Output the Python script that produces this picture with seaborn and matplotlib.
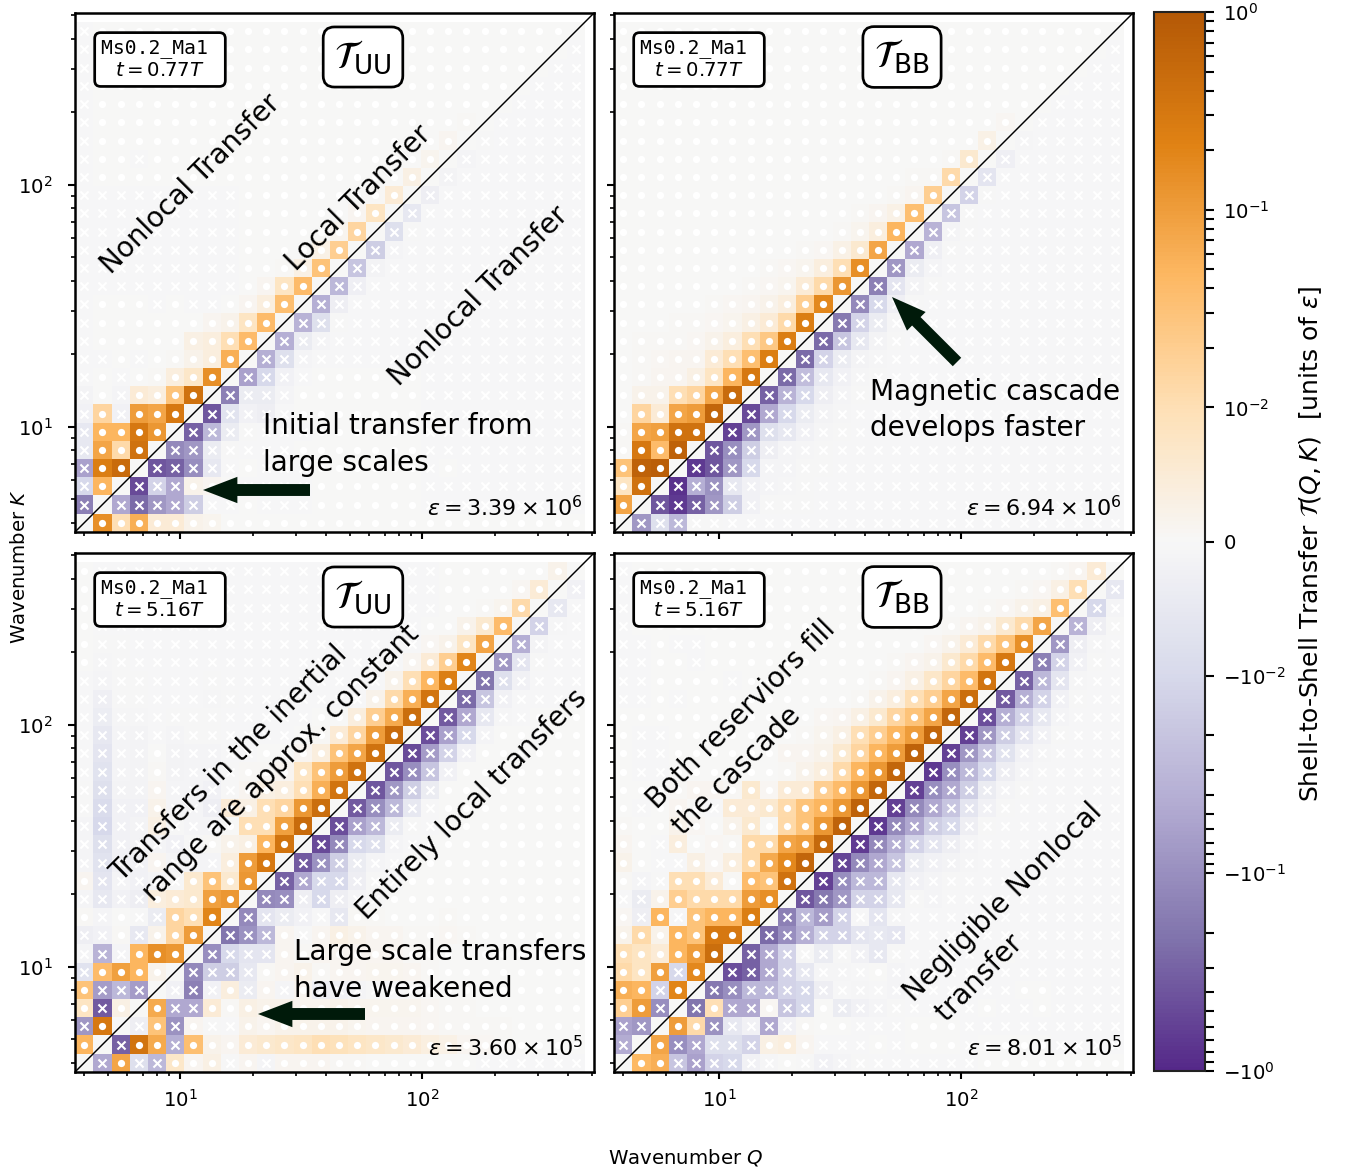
import numpy as np
import pandas as pd
import seaborn as sns
from matplotlib import pyplot as plt
from matplotlib.cm import ScalarMappable
from matplotlib.colors import LinearSegmentedColormap, SymLogNorm
from matplotlib.patches import FancyArrowPatch
from matplotlib.ticker import FixedLocator

# shell centres
wavenumbers = [4, 4.76, 5.66, 6.73, 8, 9.51, 11.3, 13.5, 16, 19, 22.6, 26.9, 32, 38,
               45.3, 53.8, 64, 76.1, 90.5, 108, 128, 152, 181, 215, 256, 304, 362, 431]

# transfer in units of 1e-4 epsilon, rows K index 1..27, columns Q index below the diagonal
uu_early = [
    [-1500],
    [-100, 500],
    [-600, 2500, 5000],
    [-50, 800, 120, 4000],
    [-50, 500, 500, 3000, 1200],
    [-20, 150, -20, 1000, 800, 3000],
    [-15, 3, -10, 50, 40, 300, 4000],
    [-3, 3, -3, 3, 5, 40, 70, 1500],
    [-2, -3, 1, -2, 2, 5, 20, 40, 600],
    [-2, 1, 1, 1, 1, 2, 30, 40, 100, 400],
    [-2, 1, 1, 1, 1, 1, 3, 10, 20, 80, 400],
    [-2, 1, 1, 1, -1, 1, -1, -1, 1, 10, 40, 350],
    [-1, -1, -1, -1, -1, -1, -1, -1, -1, 1, 10, 80, 400],
    [-1, -1, -1, -1, -1, -1, -1, -1, -1, 1, 1, 5, 30, 300],
    [-1, -1, -1, -1, -1, -1, -1, -1, -1, 1, 1, 1, 3, 25, 200],
    [-1, -1, -1, -1, -1, -1, -1, -1, -1, 1, 1, 1, 1, 3, 15, 150],
    [-1, -1, -1, -1, -1, -1, -1, -1, -1, 1, 1, 1, 1, 1, 2, 10, 80],
    [-1, -1, -1, -1, -1, -1, -1, -1, -1, 1, 1, 1, 1, 1, 1, 2, 5, 50],
    [-1, 1, 1, 1, 1, 1, 1, 1, 1, 1, 1, 1, 1, 1, 1, 1, 1, 3, 30],
    [-1, 1, 1, -1, 1, 1, 1, 1, 1, 1, 1, 1, 1, 1, 1, 1, 1, 1, 2, 15],
    [-1, 1, 1, 1, 1, 1, 1, 1, 1, 1, 1, 1, 1, 1, 1, 1, 1, 1, 1, 1, 10],
    [-1, 1, 1, 1, 1, 1, 1, 1, 1, 1, 1, 1, 1, 1, 1, 1, 1, 1, 1, 1, 1, 5],
    [-1, 1, 1, 1, 1, 1, 1, 1, 1, 1, 1, 1, 1, 1, 1, 1, 1, 1, 1, 1, 1, 1, 3],
    [-1, 1, 1, 1, 1, 1, 1, 1, 1, 1, 1, 1, 1, 1, 1, 1, 1, 1, 1, 1, 1, 1, 1, 2],
    [-1, 1, 1, 1, 1, 1, 1, 1, 1, 1, 1, 1, 1, 1, 1, 1, 1, 1, 1, 1, 1, 1, 1, 1, 1],
    [-1, 1, 1, 1, 1, 1, 1, 1, 1, 1, 1, 1, 1, 1, 1, 1, 1, 1, 1, 1, 1, 1, 1, 1, 1, 1],
    [-1, 1, 1, 1, 1, 1, 1, 1, 1, 1, 1, 1, 1, 1, 1, 1, 1, 1, 1, 1, 1, 1, 1, 1, 1, 1, 1],
]

bb_early = [
    [800],
    [80, 4000],
    [300, 7000, 8000],
    [5, 3000, 400, 7000],
    [5, 800, 900, 4000, 4000],
    [3, 150, 50, 800, 1000, 6000],
    [2, 20, 20, 100, 150, 800, 5000],
    [2, 5, 10, 12, 30, 80, 500, 3000],
    [2, 5, 7, 10, 12, 50, 100, 350, 2500],
    [2, 5, 5, 5, 8, 20, 40, 100, 250, 2500],
    [1, 2, 3, 5, 5, 8, 15, 30, 50, 120, 2500],
    [1, 2, 2, 2, 3, 5, 8, 12, 20, 40, 200, 1800],
    [1, 1, 1, 1, 2, 2, 3, 5, 8, 15, 50, 120, 1200],
    [1, 1, 1, 1, 1, 1, 2, 3, 5, 8, 15, 40, 100, 1500],
    [1, 1, 1, 1, 1, 1, 1, 1, 2, 3, 4, 8, 25, 60, 800],
    [1, 1, 1, 1, 1, 1, 1, 1, 1, 2, 2, 3, 5, 15, 40, 500],
    [1, 1, 1, 1, 1, 1, 1, 1, 1, 1, 1, 2, 3, 4, 10, 25, 350],
    [1, 1, 1, 1, 1, 1, 1, 1, 1, 1, 1, 1, 1, 2, 3, 6, 12, 200],
    [1, 1, 1, 1, 1, 1, 1, 1, 1, 1, 1, 1, 1, 1, 1, 2, 4, 6, 120],
    [1, 1, 1, 1, 1, 1, 1, 1, 1, 1, 1, 1, 1, 1, 1, 1, 1, 2, 4, 60],
    [1, 1, 1, 1, 1, 1, 1, 1, 1, 1, 1, 1, 1, 1, 1, 1, 1, 1, 1, 3, 25],
    [1, 1, 1, 1, 1, 1, 1, 1, 1, 1, 1, 1, 1, 1, 1, 1, 1, 1, 1, 1, 2, 8],
    [1, 1, 1, 1, 1, 1, 1, 1, 1, 1, 1, 1, 1, 1, 1, 1, 1, 1, 1, 1, 1, 1, 3],
    [1, 1, 1, 1, 1, 1, 1, 1, 1, 1, 1, 1, 1, 1, 1, 1, 1, 1, 1, 1, 1, 1, 1, 2],
    [1, 1, 1, 1, 1, 1, 1, 1, 1, 1, 1, 1, 1, 1, 1, 1, 1, 1, 1, 1, 1, 1, 1, 1, 1],
    [1, 1, 1, 1, 1, 1, 1, 1, 1, 1, 1, 1, 1, 1, 1, 1, 1, 1, 1, 1, 1, 1, 1, 1, 1, 1],
    [1, 1, 1, 1, 1, 1, 1, 1, 1, 1, 1, 1, 1, 1, 1, 1, 1, 1, 1, 1, 1, 1, 1, 1, 1, 1, 1],
]

uu_late = [
    [500],
    [-800, 3000],
    [80, -3500, 30],
    [300, -700, -300, -700],
    [-70, 400, 900, 500, 20],
    [-10, -350, -10, 500, 1500, 1200],
    [-30, -20, 5, -50, 20, 150, 1000],
    [5, -10, 3, -5, -40, 150, 100, 2000],
    [-10, -50, -20, -30, 40, 50, 60, 900, 1200],
    [10, -60, -10, -20, -10, -5, 60, 300, 60, 1200],
    [-10, -70, -20, -20, 10, -10, -10, -10, 40, 1000, 3000],
    [-10, -80, -20, -15, -10, -20, -5, 5, 20, 30, 500, 3500],
    [-10, -100, -20, -15, 30, -5, -10, -10, 3, 100, 100, 900, 5000],
    [-5, -90, -20, -20, 20, -10, -10, -30, 50, 30, 100, 150, 1200, 4500],
    [-5, -80, -15, -15, 10, -10, -10, -20, -5, 10, 30, 40, 100, 600, 3500],
    [-3, -70, -10, -15, 5, -15, -10, -10, -5, 5, 5, 10, 80, 300, 1000, 4000],
    [-3, -60, -10, -15, 3, -15, -10, -10, -3, -3, 1, 1, 10, 40, 300, 800, 4000],
    [-3, -50, -10, -15, -3, -10, -5, -5, -3, -3, -3, -1, 3, 5, 50, 150, 1000, 5000],
    [-2, -35, -8, -8, -3, -5, -5, -5, -3, -2, -2, -2, -2, 1, 1, 40, 200, 700, 4500],
    [-2, -25, -5, -5, -3, -3, -3, -8, -5, -2, -2, -1, -1, -1, -1, -1, 20, 120, 600, 3500],
    [-2, -12, -5, -5, -3, -3, -3, -5, -3, -2, -2, -1, -1, -1, -1, -1, -1, 20, 100, 500, 2500],
    [3, -8, -5, -3, -3, -2, -2, -3, -2, -2, -1, -1, -1, -1, -1, -1, -1, -1, 10, 50, 200, 2000],
    [3, -5, -4, -3, -3, -2, -2, -2, -2, -1, -1, -1, -1, -1, -1, -1, -1, -1, -1, 8, 20, 80, 800],
    [3, -3, -3, -2, -2, -2, -2, -2, -1, -1, -1, -1, -1, -1, -1, -1, -1, -1, -1, 1, 3, 20, 60, 400],
    [3, -2, -2, -2, -2, -2, -1, -1, -1, -1, -1, -1, -1, -1, -1, -1, -1, -1, -1, -1, 1, 1, 5, 15, 120],
    [2, -2, -2, -1, -1, -1, -1, -1, -1, -1, -1, -1, -1, -1, -1, -1, -1, -1, -1, -1, 1, 1, 1, 1, 7, 50],
    [2, -1, -1, -1, -1, -1, -1, -1, -1, -1, -1, -1, -1, -1, -1, -1, -1, -1, -1, -1, 1, 1, 1, 1, 1, 1, 20],
]

bb_late = [
    [-450],
    [-600, -800],
    [200, 1000, -1000],
    [600, 500, -120, 2000],
    [120, 80, 900, -100, 1800],
    [100, 80, 50, 500, 1000, 4500],
    [20, 120, 20, 500, 300, 3000, 3000],
    [7, -30, 500, -7, 300, 500, 500, 2500],
    [-3, -40, 20, 200, 120, 120, 120, 1000, 1500],
    [6, -10, -5, 100, 100, 50, 5, 400, 300, 4000],
    [20, 3, -3, -3, 30, 8, 40, 120, 700, 1800, 6000],
    [10, 3, -2, 40, 3, 8, 6, 120, 120, 800, 1000, 5500],
    [5, 3, 3, 20, 8, 1, 20, 60, 2, 130, 300, 1200, 6500],
    [2, -2, 2, 10, 2, -1, 50, 50, 60, 120, 300, 500, 1200, 7000],
    [2, 2, 3, 5, 10, 10, 5, 60, 8, 50, 50, 200, 400, 1200, 6000],
    [2, -2, -1, 3, 3, 3, 3, 3, 1, 5, 20, 40, 120, 500, 1200, 6000],
    [2, -2, -2, 2, 2, 2, 2, 2, 2, 10, 10, 20, 60, 150, 500, 1000, 7000],
    [2, -2, -2, 2, 2, 2, 2, 2, 2, 2, 5, 15, 30, 100, 200, 500, 1000, 6000],
    [2, 2, 2, 2, 2, 2, 2, 2, 2, 2, 2, 7, 10, 30, 60, 150, 300, 800, 6000],
    [-1, -1, 1, -1, 1, 1, 1, 1, 1, 1, 1, 1, 3, 5, 20, 40, 100, 200, 800, 4500],
    [-1, -1, 1, 1, 1, 1, -1, 1, 1, 1, 1, 1, 1, 3, 5, 10, 30, 70, 150, 400, 3500],
    [-1, -1, 1, 1, -1, 1, 1, 1, 1, 1, 1, 1, 1, 1, 3, 5, 10, 20, 60, 120, 400, 3000],
    [-1, -1, 1, -1, -1, 1, 1, 1, 1, 1, 1, 1, 1, 1, 1, 2, 3, 7, 20, 50, 120, 300, 1500],
    [-1, 1, 1, 1, 1, 1, 1, 1, 1, 1, 1, 1, 1, 1, 1, 1, 2, 3, 5, 10, 20, 60, 120, 800],
    [-1, 1, 1, 1, 1, 1, 1, 1, 1, 1, 1, 1, 1, 1, 1, 1, 1, 1, 2, 3, 5, 8, 20, 30, 350],
    [-1, 1, 1, 1, 1, 1, 1, 1, 1, 1, 1, 1, 1, 1, 1, 1, 1, 1, 1, 1, 2, 3, 5, 8, 30, 100],
    [-1, 1, 1, 1, 1, 1, 1, 1, 1, 1, 1, 1, 1, 1, 1, 1, 1, 1, 1, 1, 1, 1, 2, 2, 5, 10, 50],
]

panel_data = [uu_early, bb_early, uu_late, bb_late]
panel_names = ['UU', 'BB', 'UU', 'BB']
panel_times = ['0.77', '0.77', '5.16', '5.16']
panel_eps = ['3.39', '6.94', '3.60', '8.01']
panel_eps_exp = ['6', '6', '5', '5']

W, H = 1350, 1170
plt.rcParams['font.family'] = ['DejaVu Sans']
plt.rcParams['font.size'] = 9.5
ARROW = '#001a0a'
TXT = 13.4


def to_matrix(rows):
    # transfer is antisymmetric, T(Q, K) = -T(K, Q)
    n = len(wavenumbers)
    mat = np.zeros((n, n))
    for j, row in enumerate(rows):
        for i, v in enumerate(row):
            mat[j + 1, i] = v / 1e4
            mat[i, j + 1] = -v / 1e4
    return mat


def fx(x):
    return x / W


def fy(y):
    return 1 - y / H


def add_axes(x0, y0, x1, y1):
    return fig.add_axes([fx(x0), fy(y1), fx(x1) - fx(x0), fy(y0) - fy(y1)])


def arrow(x0, y0, x1, y1):
    fig.add_artist(FancyArrowPatch(
        (fx(x0), fy(y0)), (fx(x1), fy(y1)), transform=fig.transFigure,
        arrowstyle='simple,head_length=1.5,head_width=1.15,tail_width=0.52',
        mutation_scale=11, color=ARROW, lw=0, shrinkA=0, shrinkB=0, zorder=6))


def label(x, y, s, rot=0, ha='center', size=TXT):
    fig.text(fx(x), fy(y), s, rotation=rot, ha=ha, va='center', fontsize=size,
             rotation_mode='anchor', linespacing=1.4, zorder=6)


k = np.array(wavenumbers)
mids = np.sqrt(k[1:] * k[:-1])
edges = np.concatenate([[k[0] ** 2 / mids[0]], mids, [k[-1] ** 2 / mids[-1]]])

purple_orange = sns.color_palette('PuOr_r', 256)[26:230]
cmap = LinearSegmentedColormap.from_list('PuOr_cut', purple_orange)
norm = SymLogNorm(linthresh=0.01, linscale=0.61, vmin=-1, vmax=1, base=10)

fig = plt.figure(figsize=(W / 150, H / 150), dpi=150)
boxes = [(75, 13), (614, 13), (75, 553), (614, 553)]

for p, rows in enumerate(panel_data):
    x0, y0 = boxes[p]
    ax = add_axes(x0, y0, x0 + 519, y0 + 519)
    mat = to_matrix(rows)
    ax.pcolormesh(edges, edges, mat, cmap=cmap, norm=norm, rasterized=True)

    qq, kk = np.meshgrid(k, k)
    df = pd.DataFrame({'Q': qq.ravel(), 'K': kk.ravel(), 'T': mat.ravel()})
    sns.scatterplot(data=df[df['T'] > 0], x='Q', y='K', ax=ax, color='white', marker='o',
                    s=12, linewidth=0, legend=False, zorder=3)
    sns.scatterplot(data=df[df['T'] < 0], x='Q', y='K', ax=ax, color='white', marker='x',
                    s=15, linewidth=1.0, legend=False, zorder=3)

    ax.set_xscale('log')
    ax.set_yscale('log')
    ax.set_xlim(edges[0], 512)
    ax.set_ylim(edges[0], 512)
    ax.plot([0, 1], [0, 1], color='k', lw=0.7, transform=ax.transAxes, zorder=4)
    ax.set_xlabel('')
    ax.set_ylabel('')
    ax.tick_params(which='major', length=3.5, width=1.0, labelsize=9.5)
    ax.tick_params(which='minor', length=2, width=0.8, labelbottom=False, labelleft=False)
    ax.tick_params(axis='y', which='major', pad=7)
    ax.tick_params(axis='x', which='major', pad=4.5)
    if p < 2:
        ax.tick_params(which='both', labelbottom=False)
    if p % 2 == 1:
        ax.tick_params(which='both', labelleft=False)
    for spine in ax.spines.values():
        spine.set_linewidth(1.2)

    # the trailing space is what pushes the run name left inside its box
    ax.text(85 / 519, 1 - 47 / 519, f'Ms0.2_Ma1 \n$t={panel_times[p]}T$', family='DejaVu Sans Mono',
            fontsize=9.5, ha='center', va='center', transform=ax.transAxes, linespacing=1.2, zorder=5,
            bbox=dict(boxstyle='round,pad=0.3', fc='white', ec='k', lw=1.3))
    ax.text(288 / 519, 1 - 44 / 519,
            r'$\mathcal{T}_{\mathrm{' + panel_names[p] + '}}$', fontsize=18, ha='center', va='center',
            transform=ax.transAxes, zorder=5,
            bbox=dict(boxstyle='round,pad=0.3', fc='white', ec='k', lw=1.3))
    ax.text(508 / 519, 1 - 495 / 519,
            rf'$\varepsilon={panel_eps[p]}\times10^{panel_eps_exp[p]}$', fontsize=10.7,
            ha='right', va='center', transform=ax.transAxes, zorder=5)

# annotations, panel by panel
label(191, 184, 'Nonlocal Transfer', 45)
label(359, 198, 'Local Transfer', 45)
label(479, 296, 'Nonlocal Transfer', 45)
label(263, 444.5, 'Initial transfer from\nlarge scales', ha='left')
arrow(310, 490, 203, 490)

label(870, 410, 'Magnetic cascade\ndevelops faster', ha='left')
arrow(957, 362, 892, 297)

label(128, 890, 'Transfers in the inertial\n range are approx. constant', 45, ha='left')
label(472, 804, 'Entirely local transfers', 45)
label(294, 970.5, 'Large scale transfers\nhave weakened', ha='left')
arrow(365, 1014, 258, 1014)

label(664, 817, 'Both reserviors fill\nthe cascade', 45, ha='left')
label(921, 1010, 'Negligible Nonlocal\n transfer', 45, ha='left')

label(20, 566, 'Wavenumber $K$', 90, size=9.5)
label(686, 1157, 'Wavenumber $Q$', size=9.5)

cax = add_axes(1154, 12, 1205, 1071)
cbar = fig.colorbar(ScalarMappable(norm=norm, cmap=cmap), cax=cax)
cbar.set_ticks([-1, -0.1, -0.01, 0, 0.01, 0.1, 1])
minor = [s * m * d for s in (-1, 1) for d in (0.01, 0.1) for m in range(2, 10)]
cax.yaxis.set_minor_locator(FixedLocator(minor))
cax.tick_params(which='both', length=4.5, width=1.0, labelsize=9.5, pad=4)
cbar.outline.set_linewidth(1.0)
cbar.outline.set_edgecolor('#222222')
label(1311, 544, r'Shell-to-Shell Transfer $\mathcal{T}(Q,K)$  [units of $\varepsilon$]', 90, size=12)

fig.savefig('out.png', dpi=150)
